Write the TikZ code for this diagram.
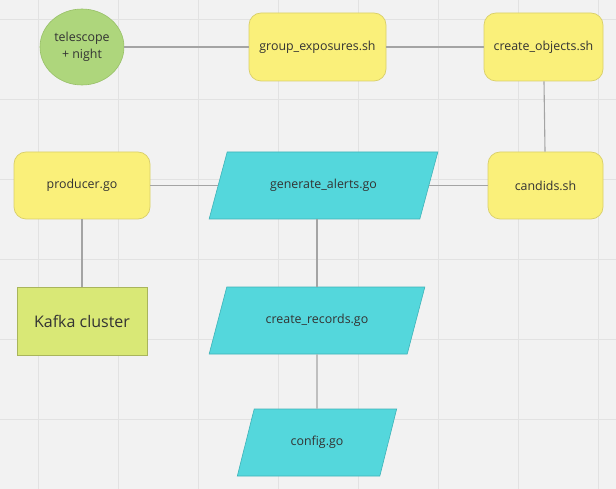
\documentclass[tikz,border=0pt]{standalone}
\usepackage{fontspec}
\setmainfont{Open Sans}
\usetikzlibrary{shapes.geometric}

\definecolor{canvas}{HTML}{F2F2F2}
\definecolor{gridline}{HTML}{E2E2E2}
\definecolor{wire}{HTML}{A4A4A4}
\definecolor{ink}{HTML}{333333}
\definecolor{leaf}{HTML}{AED67C}
\definecolor{leafedge}{HTML}{98C068}
\definecolor{sun}{HTML}{FAF07A}
\definecolor{sunedge}{HTML}{D9CF6A}
\definecolor{aqua}{HTML}{54D7DC}
\definecolor{aquaedge}{HTML}{3FB3B8}
\definecolor{lime}{HTML}{D9E876}
\definecolor{limeedge}{HTML}{A9B55C}

\tikzset{
  every node/.style={text=ink, font=\fontsize{12.4}{15}\selectfont},
  script/.style={draw=sunedge, fill=sun, rounded corners=12pt, line width=0.7pt,
    inner sep=0pt},
  gofile/.style={draw=aquaedge, fill=aqua, trapezium, trapezium stretches=true,
    line width=0.6pt, inner sep=0pt, minimum height=67pt},
  source/.style={draw=leafedge, fill=leaf, ellipse, line width=0.6pt, inner sep=0pt,
    minimum width=84pt, minimum height=76pt, align=center,
    font=\fontsize{12.4}{16.5}\selectfont},
  cluster/.style={draw=limeedge, fill=lime, line width=0.9pt, inner sep=0pt,
    minimum width=130pt, minimum height=68pt, font=\fontsize{16}{19}\selectfont},
  link/.style={draw=wire, line width=1.1pt},
}

\begin{document}
\begin{tikzpicture}[x=1pt, y=-1pt]
  % canvas and grid
  \fill[canvas] (0,0) rectangle (616,489);
  \useasboundingbox (0,0) rectangle (616,489);
  \foreach \gx in {38,118,...,598} \draw[gridline, line width=0.8pt] (\gx,0) -- (\gx,489);
  \foreach \gy in {19,99,...,419} \draw[gridline, line width=0.8pt] (0,\gy) -- (616,\gy);

  % top row
  \node[source] (tel) at (82,47) {telescope\\+ night};
  \node[script, minimum width=137pt, minimum height=68pt] (grp) at (317.5,47) {group\_exposures.sh};
  \node[script, minimum width=119pt, minimum height=68pt] (obj) at (543.5,47) {create\_objects.sh};

  % middle row
  \node[script, minimum width=136pt, minimum height=67pt] (prod) at (82,185.5) {producer.go};
  \node[gofile, trapezium left angle=51.1, trapezium right angle=128.9,
        minimum width=229pt] (alerts) at (323.5,185.5) {generate\_alerts.go};
  \node[script, minimum width=115pt, minimum height=67pt] (cand) at (545.5,185.5) {candids.sh};

  % lower part
  \node[cluster] (kafka) at (82,321) {Kafka cluster};
  \node[gofile, trapezium left angle=51.1, trapezium right angle=128.9,
        minimum width=216pt] (rec) at (317,320.5) {create\_records.go};
  \node[gofile, trapezium left angle=60.4, trapezium right angle=119.6,
        minimum width=160pt] (cfg) at (317,442.5) {config.go};

  % connectors
  \path[link] (tel) -- (grp);
  \path[link] (grp) -- (obj);
  \path[link] (obj) -- (cand);
  \path[link] (cand) -- (alerts.right side);
  \path[link] (prod) -- (alerts.left side);
  \path[link] (prod) -- (kafka);
  \path[link] (rec.north |- alerts.south) -- (rec.north);
  \path[link] (rec) -- (cfg);
\end{tikzpicture}
\end{document}
